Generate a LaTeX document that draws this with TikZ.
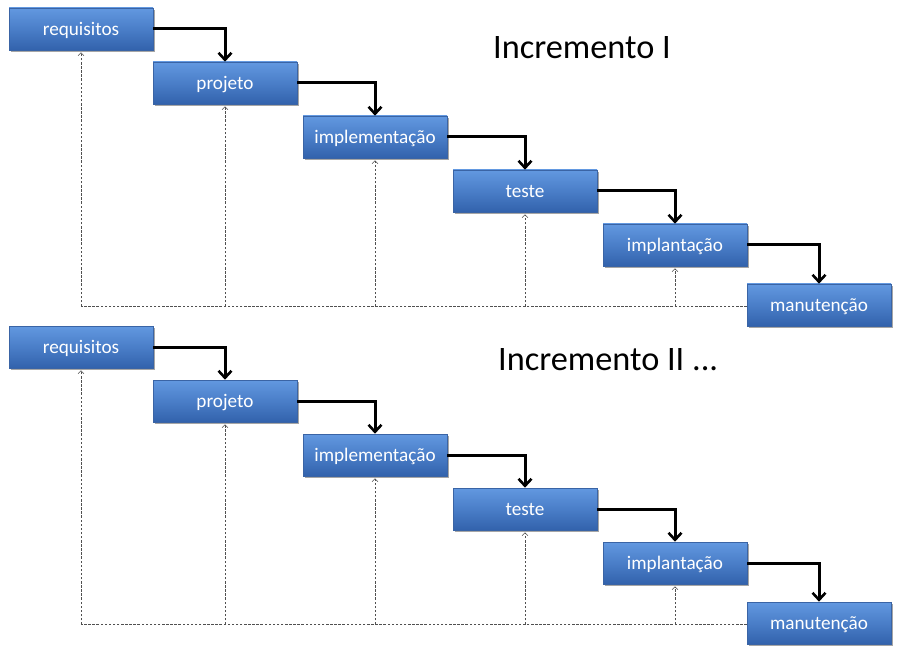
\documentclass[tikz,border=0pt]{standalone}
\usepackage{fontspec}
\newfontfamily\boxfont{Carlito}
\usetikzlibrary{arrows.meta,shadows,calc}
\definecolor{boxtop}{RGB}{98,152,224}
\definecolor{boxmid}{RGB}{74,126,200}
\definecolor{boxbot}{RGB}{50,98,172}
\definecolor{boxline}{RGB}{58,100,165}
\definecolor{fbgray}{RGB}{80,80,80}
\begin{document}
\begin{tikzpicture}[x=1pt,y=-1pt,
  stagebox/.style={rectangle, minimum width=144pt, minimum height=42pt, inner sep=0pt,
    draw=boxline, line width=0.6pt, top color=boxtop, bottom color=boxbot, middle color=boxmid,
    drop shadow={shadow xshift=1.5pt, shadow yshift=-2pt, opacity=0.35, fill=black},
    text=white, font={\boxfont\fontsize{19.2}{20}\selectfont},
    text height=15pt, text depth=2pt},
  flow/.style={line width=3pt, -{Straight Barb[length=7pt,width=13pt,line width=2.6pt]}},
  fbline/.style={draw=fbgray, line width=0.75pt, dash pattern=on 2.5pt off 1.6pt},
  fbarrow/.style={fbline, -{Straight Barb[length=3pt,width=6pt,line width=0.6pt]}, shorten >=2pt},
  title/.style={font={\boxfont\fontsize{34.3}{40}\selectfont}, inner sep=0pt, anchor=base west}
]
\useasboundingbox (0,0) rectangle (918,660);
\fill[white] (0,0) rectangle (918,660);
\foreach \s/\dy in {1/0, 2/318}{
  \begin{scope}[yshift=-\dy pt]
    \node[stagebox] (req\s) at (81,29) {requisitos};
    \node[stagebox] (pro\s) at (225,83) {projeto};
    \node[stagebox] (imp\s) at (375,137) {implementação};
    \node[stagebox] (tes\s) at (525,191) {teste};
    \node[stagebox] (ipl\s) at (675,245) {implantação};
    \node[stagebox] (man\s) at (819,305) {manutenção};
    \coordinate (fbend\s) at ($(man\s.west)+(0,-1.5pt)$);
    \draw[fbline] (fbend\s) -- (req\s.south |- fbend\s);
    \foreach \b in {req,pro,imp,tes,ipl}{
      \draw[fbarrow] (\b\s.south |- fbend\s) -- (\b\s.south);
    }
    \draw[flow] (req\s.east) -| (pro\s.north);
    \draw[flow] (pro\s.east) -| (imp\s.north);
    \draw[flow] (imp\s.east) -| (tes\s.north);
    \draw[flow] (tes\s.east) -| (ipl\s.north);
    \draw[flow] (ipl\s.east) -| (man\s.north);
  \end{scope}
}
\node[title] (inc1) at (493,59) {Incremento I};
\node[title] (inc2) at (498,370) {Incremento II ...};
\end{tikzpicture}
\end{document}
